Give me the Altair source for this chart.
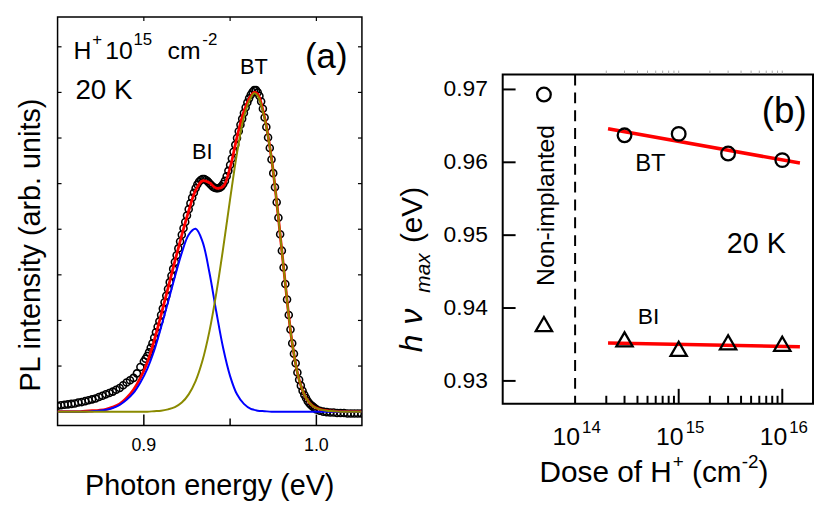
import altair as alt
import pandas as pd

FONT = "Liberation Sans"

# ---------------- panel (a): PL spectrum ----------------
energy_fit = [0.850, 0.854, 0.858, 0.862, 0.866, 0.870, 0.874, 0.878, 0.882, 0.886,
              0.890, 0.894, 0.898, 0.902, 0.906, 0.910, 0.914, 0.918, 0.922, 0.926,
              0.930, 0.934, 0.938, 0.942, 0.946, 0.950, 0.954, 0.958, 0.962, 0.964,
              0.966, 0.970, 0.974, 0.978, 0.982, 0.986, 0.990, 0.994, 0.998, 1.002,
              1.006, 1.010, 1.014, 1.018, 1.022, 1.026]
fit_total = [0.00, 0.00, 0.00, 0.00, 0.01, 0.02, 0.03, 0.05, 0.10, 0.17,
             0.30, 0.48, 0.74, 1.08, 1.56, 2.12, 2.71, 3.30, 3.87, 4.40,
             4.85, 5.06, 5.02, 4.90, 4.94, 5.35, 6.02, 6.58, 6.92, 7.00,
             6.96, 6.45, 5.55, 4.25, 2.80, 1.50, 0.70, 0.30, 0.12, 0.05,
             0.02, 0.01, 0.00, 0.00, 0.00, 0.00]
fit_bi = [0.00, 0.00, 0.00, 0.00, 0.00, 0.01, 0.02, 0.04, 0.08, 0.15,
          0.26, 0.41, 0.64, 0.94, 1.34, 1.85, 2.40, 2.96, 3.48, 3.88,
          4.01, 3.73, 3.05, 2.19, 1.39, 0.78, 0.38, 0.17, 0.06, 0.04,
          0.02, 0.01, 0.00, 0.00, 0.00, 0.00, 0.00, 0.00, 0.00, 0.00,
          0.00, 0.00, 0.00, 0.00, 0.00, 0.00]
fit_bt = [0.00, 0.00, 0.00, 0.00, 0.00, 0.00, 0.00, 0.00, 0.00, 0.00,
          0.00, 0.00, 0.00, 0.00, 0.01, 0.02, 0.05, 0.10, 0.20, 0.38,
          0.67, 1.12, 1.76, 2.60, 3.59, 4.66, 5.67, 6.46, 6.88, 6.98,
          6.92, 6.43, 5.55, 4.25, 2.80, 1.50, 0.70, 0.30, 0.12, 0.05,
          0.02, 0.01, 0.00, 0.00, 0.00, 0.00]

energy_data = [0.850, 0.852, 0.854, 0.856, 0.858, 0.860, 0.862, 0.864, 0.866, 0.868,
               0.870, 0.872, 0.874, 0.876, 0.878, 0.880, 0.882, 0.884, 0.886, 0.888,
               0.890, 0.892, 0.894, 0.896, 0.898,
               0.900, 0.901, 0.902, 0.903, 0.904, 0.905, 0.906, 0.907, 0.908, 0.909,
               0.910, 0.911, 0.912, 0.913, 0.914, 0.915, 0.916, 0.917, 0.918, 0.919,
               0.920, 0.921, 0.922, 0.923, 0.924, 0.925, 0.926, 0.927, 0.928, 0.929,
               0.930, 0.931, 0.932, 0.933, 0.934, 0.935, 0.936, 0.937, 0.938, 0.939,
               0.940, 0.941, 0.942, 0.943, 0.944, 0.945, 0.946, 0.947, 0.948, 0.949,
               0.950, 0.951, 0.952, 0.953, 0.954, 0.955, 0.956, 0.957, 0.958, 0.959,
               0.960, 0.961, 0.962, 0.963, 0.964, 0.965, 0.966, 0.967, 0.968, 0.969,
               0.970, 0.971, 0.972, 0.973, 0.974, 0.975, 0.976, 0.977, 0.978, 0.979,
               0.980, 0.981, 0.982, 0.983, 0.984, 0.985, 0.986, 0.987, 0.988, 0.989,
               0.990, 0.991, 0.992, 0.993, 0.994, 0.995, 0.996, 0.997, 0.998, 0.999,
               1.000,
               1.002, 1.004, 1.006, 1.008, 1.010, 1.012, 1.014, 1.016, 1.018, 1.020,
               1.022, 1.024, 1.026]
pl_data = [0.13, 0.14, 0.15, 0.16, 0.17, 0.18, 0.20, 0.21, 0.23, 0.25,
           0.27, 0.29, 0.32, 0.35, 0.38, 0.41, 0.44, 0.48, 0.52, 0.58,
           0.64, 0.69, 0.74, 0.84, 0.98,
           1.10, 1.16, 1.22, 1.30, 1.40, 1.50, 1.62, 1.74, 1.86, 1.98,
           2.12, 2.26, 2.40, 2.54, 2.69, 2.84, 2.98, 3.13, 3.28, 3.43,
           3.58, 3.73, 3.88, 4.02, 4.16, 4.30, 4.44, 4.57, 4.69, 4.80,
           4.90, 4.98, 5.04, 5.08, 5.10, 5.10, 5.08, 5.05, 5.01, 4.97,
           4.93, 4.91, 4.90, 4.90, 4.91, 4.94, 4.99, 5.06, 5.16, 5.28,
           5.41, 5.55, 5.70, 5.85, 6.00, 6.15, 6.29, 6.42, 6.55, 6.67,
           6.78, 6.87, 6.95, 7.01, 7.05, 7.05, 7.00, 6.92, 6.80, 6.64,
           6.45, 6.24, 6.01, 5.78, 5.53, 5.23, 4.92, 4.59, 4.25, 3.89,
           3.53, 3.16, 2.80, 2.46, 2.12, 1.80, 1.50, 1.27, 1.06, 0.86,
           0.70, 0.57, 0.46, 0.37, 0.30, 0.23, 0.18, 0.14, 0.11, 0.08,
           0.05,
           0.02, 0.00, -0.01, -0.02, -0.02, -0.03, -0.03, -0.03, -0.04, -0.04,
           -0.04, -0.04, -0.04]

a_xtick_major = [0.9, 1.0]
a_xtick_labels = ["0.9", "1.0"]
a_xtick_minor = [0.95]
a_xtick_top = [0.9, 0.95, 1.0]
a_ytick = [1, 2, 3, 4, 5, 6, 7, 8]

# ---------------- panel (b): peak energies vs dose ----------------
dose = [3e14, 1e15, 3e15, 1e16]
bt_energy = [0.9637, 0.9639, 0.9612, 0.9603]
bi_energy = [0.9357, 0.9344, 0.9353, 0.9351]
ref_dose = [5e13]
ref_bt = [0.9693]
ref_bi = [0.9378]
fit_dose = [2.08e14, 1.48e16]
bt_fit = [0.9646, 0.9599]
bi_fit = [0.9352, 0.9347]
b_ytick = [0.93, 0.94, 0.95, 0.96, 0.97]
b_ytick_labels = ["0.93", "0.94", "0.95", "0.96", "0.97"]
b_xtick_major = [1e15, 1e16]
b_xtick_minor = [2e14, 3e14, 4e14, 5e14, 6e14, 7e14, 8e14, 9e14,
                 2e15, 3e15, 4e15, 5e15, 6e15, 7e15, 8e15, 9e15]
b_xlabel_pos = [1e14, 1e15, 1e16]
b_xlabel_exp = ["14", "15", "16"]
b_divider = [1e14]

# ---------------- geometry ----------------
WA, HA = 307, 412
WB, HB = 313, 412
BT_TOP, BT_BOT = 58, 390

sa_x = alt.Scale(domain=[0.85, 1.0264], nice=False, zero=False)
sa_y = alt.Scale(domain=[-0.304, 8.652], nice=False, zero=False)
sb_x = alt.Scale(type="log", domain=[2.0e13, 1.98e16], nice=False)
sb_y = alt.Scale(domain=[0.92687, 0.97204], range=[BT_BOT, BT_TOP], nice=False, zero=False)

one = pd.DataFrame({"a": [0]})


def XA(f):
    return alt.X(f"{f}:Q", scale=sa_x, axis=None)


def YA(f):
    return alt.Y(f"{f}:Q", scale=sa_y, axis=None)


def XB(f):
    return alt.X(f"{f}:Q", scale=sb_x, axis=None)


def YB(f):
    return alt.Y(f"{f}:Q", scale=sb_y, axis=None)


def txt(s, x, y, size, align="left", baseline="alphabetic", angle=0, italic=False):
    kw = dict(text=s, font=FONT, fontSize=size, align=align, baseline=baseline, color="black")
    if angle:
        kw["angle"] = angle
    if italic:
        kw["fontStyle"] = "italic"
    return alt.Chart(one).mark_text(**kw).encode(x=alt.value(x), y=alt.value(y))


def frame(x0, x1, y0, y1, sw):
    return alt.Chart(one).mark_rect(fillOpacity=0, stroke="black", strokeWidth=sw).encode(
        x=alt.value(x0), x2=alt.value(x1), y=alt.value(y0), y2=alt.value(y1))


# ---------------- panel (a) layers ----------------
df_fit = pd.DataFrame({"e": energy_fit, "tot": fit_total, "bi": fit_bi, "bt": fit_bt})
df_dat = pd.DataFrame({"e": energy_data, "pl": pl_data})

anchor = alt.Chart(one).mark_rule(strokeOpacity=0).encode(
    x=alt.value(-50), x2=alt.value(-50), y=alt.value(-7), y2=alt.value(-7))

pts_a = alt.Chart(df_dat).mark_point(shape="circle", filled=False, size=50, strokeWidth=1.6,
                                      color="black", opacity=1, clip=True).encode(
    x=XA("e"), y=YA("pl"))
red_a = alt.Chart(df_fit).mark_line(color="#ff0000", strokeWidth=2.8, interpolate="catmull-rom",
                                    clip=True).encode(x=XA("e"), y=YA("tot"))
blue_a = alt.Chart(df_fit).mark_line(color="#0000ff", strokeWidth=2, interpolate="catmull-rom",
                                     clip=True).encode(x=XA("e"), y=YA("bi"))
olive_a = alt.Chart(df_fit).mark_line(color="#8a8a00", strokeWidth=2, interpolate="catmull-rom",
                                      clip=True).encode(x=XA("e"), y=YA("bt"))

tk_a_major = alt.Chart(pd.DataFrame({"v": a_xtick_major})).mark_rule(color="black", strokeWidth=1.5).encode(
    x=XA("v"), y=alt.value(HA), y2=alt.value(HA - 11))
tk_a_minor = alt.Chart(pd.DataFrame({"v": a_xtick_minor})).mark_rule(color="black", strokeWidth=1.5).encode(
    x=XA("v"), y=alt.value(HA), y2=alt.value(HA - 7))
tk_a_top = alt.Chart(pd.DataFrame({"v": a_xtick_top})).mark_rule(color="black", strokeWidth=1.2).encode(
    x=XA("v"), y=alt.value(0), y2=alt.value(4))
tk_a_left = alt.Chart(pd.DataFrame({"v": a_ytick})).mark_rule(color="black", strokeWidth=1.2).encode(
    y=YA("v"), x=alt.value(0), x2=alt.value(4))
tk_a_right = alt.Chart(pd.DataFrame({"v": a_ytick})).mark_rule(color="black", strokeWidth=1.2).encode(
    y=YA("v"), x=alt.value(WA), x2=alt.value(WA - 4))
lbl_a = alt.Chart(pd.DataFrame({"v": a_xtick_major, "t": a_xtick_labels})).mark_text(
    font=FONT, fontSize=18, align="center", baseline="alphabetic", color="black").encode(
    x=XA("v"), y=alt.value(438), text="t:N")

panel_a = alt.layer(
    anchor,
    frame(0, WA, 0, HA, 1.5),
    pts_a, red_a, blue_a, olive_a,
    tk_a_major, tk_a_minor, tk_a_top, tk_a_left, tk_a_right, lbl_a,
    txt("H", 16, 42, 25),
    txt("+", 35, 28, 17),
    txt("10", 48, 42, 25),
    txt("15", 76.5, 28, 17),
    txt("cm", 111, 42, 25),
    txt("-2", 146, 28, 17),
    txt("20 K", 18, 83, 28),
    txt("(a)", 271, 40, 35, align="center", baseline="middle"),
    txt("BT", 198, 50.5, 22, align="center", baseline="middle"),
    txt("BI", 146, 136, 22, align="center", baseline="middle"),
    txt("PL intensity (arb. units)", -27, 230, 29, align="center", baseline="middle", angle=270),
    txt("Photon energy (eV)", WA / 2, 481.7, 29, align="center"),
).properties(width=WA, height=HA)

# ---------------- panel (b) layers ----------------
df_pts = pd.DataFrame({"d": dose, "bt": bt_energy, "bi": bi_energy})
df_ref = pd.DataFrame({"d": ref_dose, "bt": ref_bt, "bi": ref_bi})
df_fitb = pd.DataFrame({"d": fit_dose, "bt": bt_fit, "bi": bi_fit})

divider = alt.Chart(pd.DataFrame({"v": b_divider})).mark_rule(
    color="black", strokeWidth=2, strokeDash=[11, 7]).encode(
    x=XB("v"), y=alt.value(BT_TOP), y2=alt.value(BT_BOT))
fit_bt_l = alt.Chart(df_fitb).mark_line(color="#ff0000", strokeWidth=3.5).encode(x=XB("d"), y=YB("bt"))
fit_bi_l = alt.Chart(df_fitb).mark_line(color="#ff0000", strokeWidth=3.5).encode(x=XB("d"), y=YB("bi"))
circ_b = alt.Chart(df_pts).mark_point(shape="circle", filled=False, size=190, strokeWidth=2.3,
                                      color="black", opacity=1).encode(x=XB("d"), y=YB("bt"))
tri_b = alt.Chart(df_pts).mark_point(shape="triangle-up", filled=False, size=270, strokeWidth=2.3,
                                     color="black", opacity=1).encode(x=XB("d"), y=YB("bi"))
circ_r = alt.Chart(df_ref).mark_point(shape="circle", filled=False, size=190, strokeWidth=2.3,
                                      color="black", opacity=1).encode(x=XB("d"), y=YB("bt"))
tri_r = alt.Chart(df_ref).mark_point(shape="triangle-up", filled=False, size=270, strokeWidth=2.3,
                                     color="black", opacity=1).encode(x=XB("d"), y=YB("bi"))

tk_b_y = alt.Chart(pd.DataFrame({"v": b_ytick})).mark_rule(color="black", strokeWidth=2).encode(
    y=YB("v"), x=alt.value(0), x2=alt.value(13))
tk_b_major = alt.Chart(pd.DataFrame({"v": b_xtick_major})).mark_rule(color="black", strokeWidth=2).encode(
    x=XB("v"), y=alt.value(BT_BOT), y2=alt.value(BT_BOT - 15))
tk_b_minor = alt.Chart(pd.DataFrame({"v": b_xtick_minor})).mark_rule(color="black", strokeWidth=2).encode(
    x=XB("v"), y=alt.value(BT_BOT), y2=alt.value(BT_BOT - 8))
tk_b_top = alt.Chart(pd.DataFrame({"v": b_xtick_minor + b_xtick_major})).mark_rule(
    color="#aaaaaa", strokeWidth=1).encode(
    x=XB("v"), y=alt.value(BT_TOP - 1), y2=alt.value(BT_TOP - 4))
lbl_b_y = alt.Chart(pd.DataFrame({"v": b_ytick, "t": b_ytick_labels})).mark_text(
    font=FONT, fontSize=23, align="right", baseline="middle", color="black").encode(
    x=alt.value(-15), y=YB("v"), text="t:N")
df_xl = pd.DataFrame({"v": b_xlabel_pos, "e": b_xlabel_exp})
lbl_b_10 = alt.Chart(df_xl).mark_text(text="10", font=FONT, fontSize=25, align="right", dx=5,
                                      baseline="alphabetic", color="black").encode(
    x=XB("v"), y=alt.value(432))
lbl_b_exp = alt.Chart(df_xl).mark_text(font=FONT, fontSize=17, align="left", dx=7,
                                       baseline="alphabetic", color="black").encode(
    x=XB("v"), y=alt.value(420), text="e:N")

panel_b = alt.layer(
    frame(0, WB, BT_TOP, BT_BOT, 2),
    divider, fit_bt_l, fit_bi_l, circ_b, tri_b, circ_r, tri_r,
    tk_b_y, tk_b_major, tk_b_minor, tk_b_top, lbl_b_y, lbl_b_10, lbl_b_exp,
    txt("(b)", 284, 95.5, 37, align="center", baseline="middle"),
    txt("20 K", 226, 238, 29),
    txt("BT", 149, 148.5, 24, align="center", baseline="middle"),
    txt("BI", 147, 302.5, 23, align="center", baseline="middle"),
    txt("Non-implanted", 44, 190, 25, align="center", baseline="middle", angle=270),
    # x title: Dose of H+ (cm-2)
    txt("Dose of H", 37.2, 469, 30),
    txt("+", 171.6, 455, 19),
    txt("(cm", 191, 469, 30),
    txt("-2", 241, 455, 19),
    txt(")", 258, 469, 30),
    # y title: h nu_max (eV)
    txt("h", -81, 338, 32, angle=270, italic=True),
    txt("\u03bd", -81, 310, 32, angle=270, italic=True),
    txt("max", -73, 278, 21, angle=270, italic=True),
    txt("(eV)", -81, 228, 30, angle=270),
).properties(width=WB, height=HB)

chart = alt.hconcat(panel_a, panel_b, spacing=142, bounds="flush").properties(
    padding=0).configure_view(strokeWidth=0)

chart.save("out.html", embed_options={"renderer": "svg", "actions": False})
